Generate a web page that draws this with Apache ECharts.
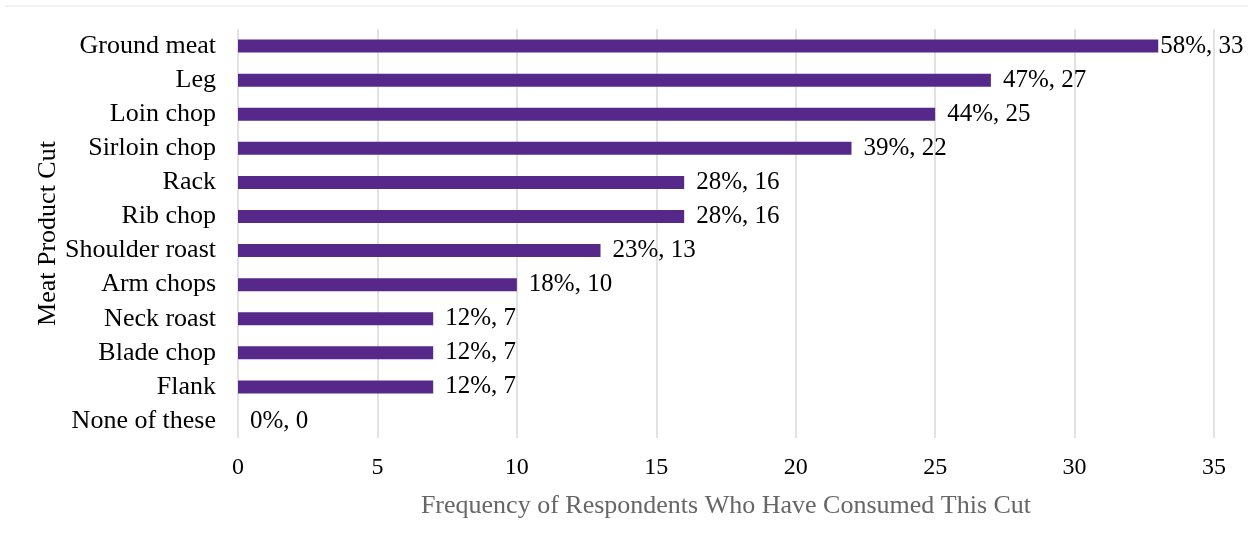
<!DOCTYPE html>
<html>
<head>
<meta charset="utf-8">
<script src="https://cdn.jsdelivr.net/npm/echarts@6/dist/echarts.min.js"></script>
<style>
  html, body { margin: 0; padding: 0; background: #fff; }
  #chart { width: 1248px; height: 539px; }
</style>
</head>
<body>
<div id="chart"></div>
<script>
// categories top to bottom
const cuts = ["Ground meat", "Leg", "Loin chop", "Sirloin chop", "Rack", "Rib chop",
  "Shoulder roast", "Arm chops", "Neck roast", "Blade chop", "Flank", "None of these"];
const counts = [33, 27, 25, 22, 16, 16, 13, 10, 7, 7, 7, 0];
const percents = [58, 47, 44, 39, 28, 28, 23, 18, 12, 12, 12, 0];
const xTicks = [0, 5, 10, 15, 20, 25, 30, 35];

const serif = "'Liberation Serif', 'Times New Roman', serif";
const chart = echarts.init(document.getElementById("chart"));

const barData = counts.map((v, i) => ({
  value: v,
  label: { distance: i === 0 ? 2 : 12 }
}));

chart.setOption({
  animation: false,
  graphic: [{
    type: "line",
    shape: { x1: 5, y1: 6, x2: 1248, y2: 6 },
    style: { stroke: "#e6e6e6", lineWidth: 1 }
  }],
  grid: { left: 238, right: 34, top: 29, bottom: 101, containLabel: false },
  xAxis: {
    type: "value",
    min: xTicks[0],
    max: xTicks[xTicks.length - 1],
    interval: 5,
    axisLine: { show: false },
    axisTick: { show: false },
    splitLine: { lineStyle: { color: "#d9d9d9", width: 1.5 } },
    axisLabel: { color: "#000", fontFamily: serif, fontSize: 24, margin: 18 },
    name: "Frequency of Respondents Who Have Consumed This Cut",
    nameLocation: "middle",
    nameGap: 55,
    nameMoveOverlap: false,
    nameTextStyle: { color: "#666", fontFamily: serif, fontSize: 26 }
  },
  yAxis: {
    type: "category",
    inverse: true,
    data: cuts,
    axisLine: { show: false },
    axisTick: { show: false },
    axisLabel: { color: "#000", fontFamily: serif, fontSize: 26, margin: 22 },
    name: "Meat Product Cut",
    nameLocation: "middle",
    nameGap: 177,
    nameRotate: 90,
    nameMoveOverlap: false,
    nameTextStyle: { color: "#000", fontFamily: serif, fontSize: 26 }
  },
  series: [{
    type: "bar",
    data: barData,
    barWidth: 13,
    itemStyle: { color: "#55288a" },
    label: {
      show: true,
      position: "right",
      color: "#000",
      fontFamily: serif,
      fontSize: 25,
      formatter: p => percents[p.dataIndex] + "%, " + counts[p.dataIndex]
    }
  }]
});
</script>
</body>
</html>
